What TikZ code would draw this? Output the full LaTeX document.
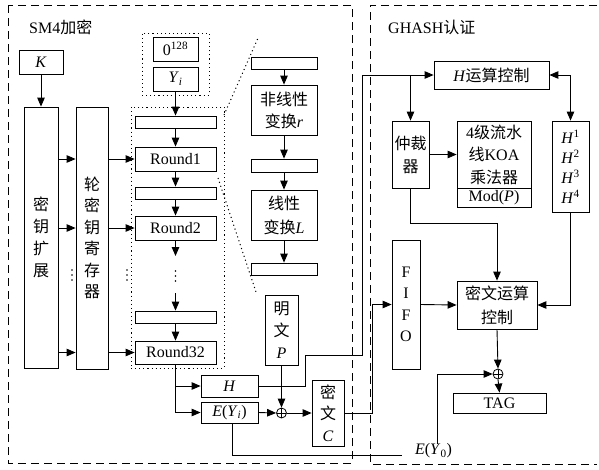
\documentclass[tikz,border=0pt]{standalone}
\usepackage{fontspec}
\setmainfont{Liberation Serif}
\newfontfamily\cjk{Noto Sans CJK SC}
\usetikzlibrary{arrows.meta}
\newcommand\zh[1]{{\cjk #1}}
\begin{document}
\begin{tikzpicture}[x=1pt,y=-1pt,
  every node/.style={font=\fontsize{16}{22}\selectfont, inner sep=0pt, align=center},
  bx/.style 2 args={draw, line width=0.8pt, minimum width=#1, minimum height=#2},
  dotbox/.style 2 args={draw, line width=1pt, dash pattern=on 1.1pt off 3pt, minimum width=#1, minimum height=#2},
  dashbox/.style={draw, line width=0.9pt, dash pattern=on 8pt off 5pt},
  zoomline/.style={line width=1pt, dash pattern=on 1.1pt off 3pt},
  arr/.style={-{Triangle[length=9pt,width=7.5pt]}, line width=0.9pt},
  arrb/.style={{Triangle[length=9pt,width=7.5pt]}-{Triangle[length=9pt,width=7.5pt]}, line width=0.9pt},
  ln/.style={line width=0.9pt},
  xorn/.style={circle, draw, line width=0.8pt, minimum size=10pt, inner sep=0pt,
    path picture={\draw[line width=0.8pt] (path picture bounding box.north) -- (path picture bounding box.south)
      (path picture bounding box.west) -- (path picture bounding box.east);}},
  vdots/.pic={\fill (0,-5) circle (0.8pt) (0,0) circle (0.8pt) (0,5) circle (0.8pt);}
]
\useasboundingbox (0,0) rectangle (599,469);

% frames
\draw[dashbox] (8,5) rectangle (352,463);
\draw[dashbox] (597,5) -- (370,5) -- (370,464) -- (597,464);
\node[anchor=west] (t1) at (29,27) {SM4\zh{加密}};
\node[anchor=west] (t2) at (388,27) {GHASH\zh{认证}};

% key schedule
\node[bx={44}{24}] (K) at (41,62) {\textit{K}};
\node[bx={34}{261}, font=\fontsize{16}{22}\cjk] (kx) at (41,237.5) {密\\钥\\扩\\展};
\node[bx={32}{262}, font=\fontsize{16}{21.5}\cjk] (lk) at (92,238) {轮\\密\\钥\\寄\\存\\器};
\pic at (72,275) {vdots};
\pic at (127,275) {vdots};

% input
\node[dotbox={67}{62}] (tb) at (175.5,64) {};
\node[bx={45}{24}] (z128) at (175.5,49) {0\textsuperscript{128}};
\node[bx={45}{24}] (yi) at (175.5,79) {\textit{Y}\textsubscript{\textit{i}}};

% rounds
\node[dotbox={93}{261}] (bd) at (177.5,237.5) {};
\node[bx={81}{12}] (bar1) at (175.5,122) {};
\node[bx={81}{24}] (r1) at (175.5,159) {Round1};
\node[bx={81}{12}] (bar2) at (175.5,193) {};
\node[bx={81}{24}] (r2) at (175.5,228) {Round2};
\coordinate (r2e) at (175.5,256);
\pic at (175.5,276) {vdots};
\coordinate (b3s) at (175.5,293);
\node[bx={81}{12}] (bar3) at (175.5,317) {};
\node[bx={81}{23}] (r32) at (175.5,352.5) {Round32};

% detail of a round
\node[bx={66}{12}] (barA) at (284,63) {};
\node[bx={66}{50}, font=\fontsize{16}{22}\cjk] (nl) at (284,110) {非线性\\变换{\rmfamily\itshape r}};
\node[bx={66}{13}] (barB) at (284,165.5) {};
\node[bx={66}{50}, font=\fontsize{16}{24}\cjk] (lin) at (284,215) {线性\\变换{\rmfamily\itshape L}};
\node[bx={66}{12}] (barC) at (284,269) {};
\coordinate (za1) at (224,115);
\coordinate (za2) at (258,38);
\coordinate (zb1) at (218,178);
\coordinate (zb2) at (256,292);
\draw[zoomline] (za1) -- (za2);
\draw[zoomline] (zb1) -- (zb2);

% output part
\node[bx={33}{70}, font=\fontsize{16}{22}\cjk] (P) at (281.5,330) {明\\文\\{\rmfamily\itshape P}};
\node[bx={57}{22}] (Hb) at (229.5,386) {\textit{H}};
\node[bx={57}{21}] (Eb) at (229.5,412.5) {\textit{E}(\textit{Y}\textsubscript{\textit{i}})};
\node[xorn] (x1) at (281.5,413) {};
\node[bx={32}{66}, font=\fontsize{16}{21.5}\cjk] (C) at (328,413) {密\\文\\{\rmfamily\itshape C}};
\node (ey0) at (433.5,451) {\textit{E}(\textit{Y}\textsubscript{0})};
\coordinate (eyend) at (402,455);

% GHASH
\node[bx={115}{28}] (hc) at (491.5,75) {\textit{H}\zh{运算控制}};
\node[bx={37}{67}, font=\fontsize{16}{23}\cjk] (arb) at (410.5,154.5) {仲裁\\器};
\node[bx={74}{67}, font=\fontsize{16}{22.5}\selectfont] (koa) at (494,154.5) {4\zh{级流水}\\\zh{线}KOA\\\zh{乘法器}};
\node[bx={74}{19}] (mod) at (494,197.5) {Mod(\textit{P})};
\node[bx={37}{91}, font=\fontsize{16}{20}\selectfont] (hp) at (570.5,166.5) {\textit{H}\textsuperscript{1}\\\textit{H}\textsuperscript{2}\\\textit{H}\textsuperscript{3}\\\textit{H}\textsuperscript{4}};
\node[bx={28}{129}, font=\fontsize{16}{21.5}\selectfont] (fifo) at (406,304.5) {F\\I\\F\\O};
\node[bx={80}{48}, font=\fontsize{16}{24}\cjk] (mc) at (497,305) {密文运算\\控制};
\node[xorn] (x2) at (498,374) {};
\node[bx={93}{20}] (tag) at (499.5,403) {TAG};

% connectors: key schedule
\draw[arr] (K.south) -- (kx.north);
\foreach \r in {r1,r2,r32}{
  \draw[arr] (kx.east |- \r.west) -- (lk.west |- \r.west);
  \draw[arr] (lk.east |- \r.west) -- (\r.west);
}
% round chain
\draw[arr] (yi.south) -- (bar1.north);
\draw[arr] (bar1.south) -- (r1.north);
\draw[arr] (r1.south) -- (bar2.north);
\draw[arr] (bar2.south) -- (r2.north);
\draw[arr] (r2.south) -- (r2e);
\draw[arr] (b3s) -- (bar3.north);
\draw[arr] (bar3.south) -- (r32.north);
% detail chain
\draw[arr] (barA.south) -- (nl.north);
\draw[arr] (nl.south) -- (barB.north);
\draw[arr] (barB.south) -- (lin.north);
\draw[arr] (lin.south) -- (barC.north);
% outputs
\draw[arr] (r32.south) |- (Eb.west);
\draw[arr] (r32.south |- Hb.west) -- (Hb.west);
\draw[arr] (Eb.east) -- (x1.west);
\draw[arr] (P.south) -- (x1.north);
\draw[arr] (x1.east) -- (C.west);
\draw[ln] ([xshift=3pt]Eb.south) |- (eyend);
\draw[arr] ([xshift=4pt]ey0.north) |- (x2.west);
\draw[arr] (Hb.east) -- (305,386) |- (362,355) |- (hc.west);
\draw[arr] (C.east) -- (372,413) |- (fifo.west);
% GHASH connectors
\draw[arr] (arb.north |- hc.west) -- (arb.north);
\draw[arr] (arb.east) -- (koa.west |- arb.east);
\draw[arrb] (hc.east) -| (hp.north);
\draw[arr] (hp.south) |- (mc.east);
\draw[arr] (arb.south) -- (arb.south |- 0,223) -| (mc.north);
\draw[arr] (fifo.east) -- (mc.west);
\draw[arr] (mc.south) -- (x2.north);
\draw[arr] (x2.south) -- (tag.north);
\end{tikzpicture}
\end{document}
